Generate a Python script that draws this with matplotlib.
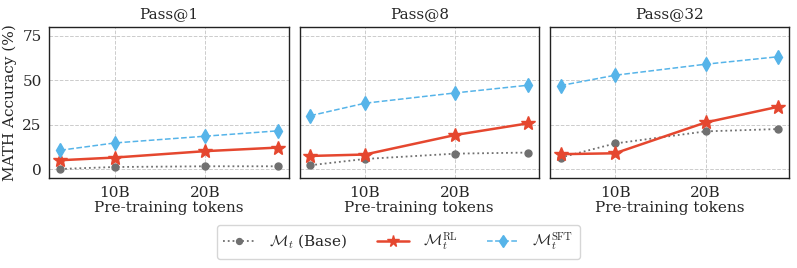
import matplotlib
matplotlib.use("Agg")
import matplotlib.pyplot as plt
import seaborn as sns

sns.set_style("whitegrid")
plt.rcParams['font.family'] = ['DejaVu Serif']
plt.rcParams['mathtext.fontset'] = 'cm'

# pre-training tokens (B)
tokens = [4, 10, 20, 28]
titles = ["Pass@1", "Pass@8", "Pass@32"]

base = [
    [0.2, 1.3, 1.7, 1.7],
    [2.3, 5.8, 8.8, 9.4],
    [6.6, 14.5, 21.3, 22.6],
]
rl = [
    [5.1, 6.6, 10.2, 12.2],
    [7.5, 8.3, 19.3, 25.8],
    [8.5, 9.0, 26.3, 35.1],
]
sft = [
    [10.7, 14.8, 18.6, 21.6],
    [30.1, 37.1, 42.9, 47.2],
    [47.0, 52.8, 59.0, 63.2],
]

c_base = '#707070'
c_rl = '#E5472F'
c_sft = '#56B4E9'

fig, axes = plt.subplots(1, 3, figsize=(7.97, 2.68), dpi=100, sharey=True)
fig.subplots_adjust(left=0.062, right=0.99, top=0.9, bottom=0.335, wspace=0.045)

for i, ax in enumerate(axes):
    ax.plot(tokens, base[i], color=c_base, linestyle=':', marker='o', markersize=5,
            linewidth=1.3, label=r'$\mathcal{M}_t$ (Base)')
    ax.plot(tokens, rl[i], color=c_rl, linestyle='-', marker='*', markersize=10,
            linewidth=1.8, label=r'$\mathcal{M}_t^{\mathrm{RL}}$')
    ax.plot(tokens, sft[i], color=c_sft, linestyle='--', marker='d', markersize=7,
            linewidth=1.1, label=r'$\mathcal{M}_t^{\mathrm{SFT}}$')
    ax.set_title(titles[i], fontsize=11)
    ax.set_ylim(-5, 80)
    ax.set_yticks([0, 25, 50, 75])
    ax.set_xticks([10, 20])
    ax.set_xticklabels(['10B', '20B'])
    ax.set_xlabel('Pre-training tokens', fontsize=11, labelpad=1)
    ax.tick_params(labelsize=11, pad=2)
    ax.grid(True, linestyle='--', color='#cccccc', linewidth=0.7)
    for s in ax.spines.values():
        s.set_color('#222222')
        s.set_linewidth(1.0)

axes[0].set_ylabel('MATH Accuracy (%)', fontsize=11)

handles, labels = axes[0].get_legend_handles_labels()
fig.legend(handles, labels, loc='lower center', ncol=3, fontsize=11,
           bbox_to_anchor=(0.5, 0.005), frameon=True, columnspacing=1.9,
           handlelength=2.1, handletextpad=0.9, markerscale=0.85)

fig.savefig('out.png', dpi=100)
